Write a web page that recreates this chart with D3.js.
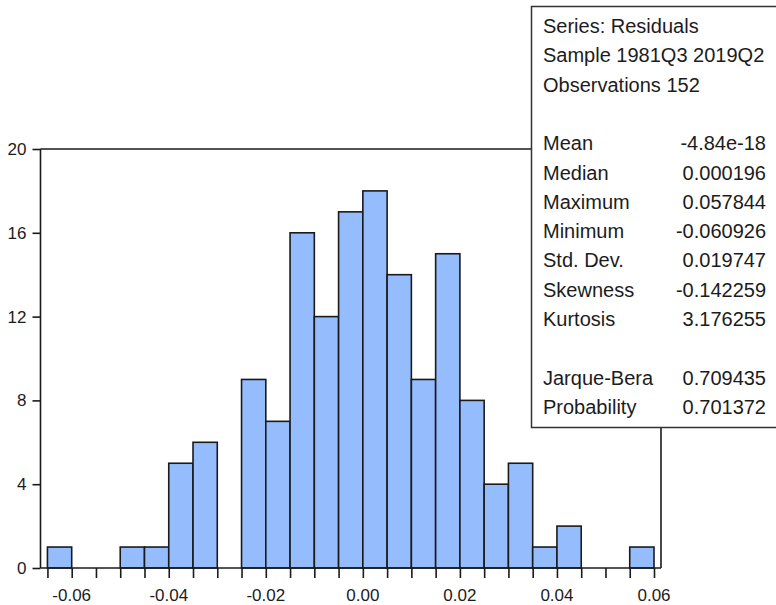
<!DOCTYPE html>
<html>
<head>
<meta charset="utf-8">
<script src="https://cdn.jsdelivr.net/npm/d3@7"></script>
<style>
  html, body { margin: 0; padding: 0; background: #fff; }
  svg { display: block; font-family: Arial, "Liberation Sans", sans-serif; }
</style>
</head>
<body>
<svg id="chart" width="776" height="605"></svg>
<script>
// Histogram of regression residuals, bins of width 0.005
const binStarts = [-0.065, -0.060, -0.055, -0.050, -0.045, -0.040, -0.035, -0.030,
  -0.025, -0.020, -0.015, -0.010, -0.005, 0.000, 0.005, 0.010, 0.015, 0.020,
  0.025, 0.030, 0.035, 0.040, 0.045, 0.050, 0.055];
const binCounts = [1, 0, 0, 1, 1, 5, 6, 0, 9, 7, 16, 12, 17, 18, 14, 9, 15, 8,
  4, 5, 1, 2, 0, 0, 1];
const binWidth = 0.005;
const xTickValues = [-0.06, -0.04, -0.02, 0.00, 0.02, 0.04, 0.06];
const yTickValues = [0, 4, 8, 12, 16, 20];

// Summary statistics table
const statHeader = ["Series: Residuals", "Sample 1981Q3 2019Q2", "Observations 152"];
const statNames = ["Mean", "Median", "Maximum", "Minimum", "Std. Dev.", "Skewness", "Kurtosis"];
const statValues = ["-4.84e-18", "0.000196", "0.057844", "-0.060926", "0.019747", "-0.142259", "3.176255"];
const testNames = ["Jarque-Bera", "Probability"];
const testValues = ["0.709435", "0.701372"];

const svg = d3.select("#chart");
const ink = "#1a1a1a";
const textInk = "#1c1c1c";

const x = d3.scaleLinear().domain([-0.06, 0.06]).range([71.7, 654]);
const y = d3.scaleLinear().domain([0, 20]).range([568, 149]);
const plotLeft = 40.5, plotRight = 661, plotTop = 149, plotBottom = 568;
const fmtX = v => d3.format(".2f")(v).replace("\u2212", "-");

// bars
svg.append("g").selectAll("rect")
  .data(binStarts.map((s, i) => ({ s, c: binCounts[i] })).filter(d => d.c > 0))
  .join("rect")
  .attr("x", d => x(d.s))
  .attr("y", d => y(d.c))
  .attr("width", d => x(d.s + binWidth) - x(d.s))
  .attr("height", d => y(0) - y(d.c))
  .attr("fill", "#95bdfe")
  .attr("stroke", ink)
  .attr("stroke-width", 1.6);

// frame: left, top, right
const frame = svg.append("g").attr("fill", "none").attr("stroke", ink).attr("stroke-width", 1.6);
frame.append("line").attr("x1", plotLeft).attr("x2", plotLeft).attr("y1", plotTop).attr("y2", plotBottom);
frame.append("line").attr("x1", plotLeft).attr("x2", plotRight).attr("y1", plotTop).attr("y2", plotTop);
frame.append("line").attr("x1", plotRight).attr("x2", plotRight).attr("y1", plotTop).attr("y2", plotBottom);

// y axis
const yAxis = svg.append("g")
  .attr("transform", `translate(${plotLeft},0)`)
  .call(d3.axisLeft(y).tickValues(yTickValues).tickFormat(d3.format("d")).tickSize(8).tickPadding(6));
yAxis.select(".domain").remove();
yAxis.selectAll("line").attr("stroke", ink).attr("stroke-width", 1.6);
yAxis.selectAll("text")
  .style("font-size", "17px")
  .style("font-family", "Arial, 'Liberation Sans', sans-serif")
  .attr("fill", textInk);

// x axis: small ticks at every bin edge, labels at 0.02 steps
const edgeTicks = binStarts.concat([binStarts[binStarts.length - 1] + binWidth]);
const xAxis = svg.append("g")
  .attr("transform", `translate(0,${plotBottom})`)
  .call(d3.axisBottom(x).tickValues(edgeTicks).tickSize(10).tickFormat(() => ""));
xAxis.select(".domain").attr("d", `M${plotLeft},0H${plotRight}`).attr("stroke", ink).attr("stroke-width", 1.6);
xAxis.selectAll("line").attr("stroke", ink).attr("stroke-width", 1.6);

svg.append("g").selectAll("text")
  .data(xTickValues)
  .join("text")
  .attr("x", d => x(d))
  .attr("y", 601)
  .attr("text-anchor", "middle")
  .style("font-size", "17px")
  .attr("fill", textInk)
  .text(d => fmtX(d));

// statistics box
const box = svg.append("g");
box.append("rect")
  .attr("x", 531.5).attr("y", 6.5)
  .attr("width", 260).attr("height", 421)
  .attr("fill", "#fff")
  .attr("stroke", "#333")
  .attr("stroke-width", 1.5);

const lineH = 29.3;
const rows = [];
statHeader.forEach((t, i) => rows.push({ name: t, value: "", row: i }));
statNames.forEach((t, i) => rows.push({ name: t, value: statValues[i], row: 4 + i }));
testNames.forEach((t, i) => rows.push({ name: t, value: testValues[i], row: 12 + i }));

const rowY = r => 33 + r * lineH;
box.selectAll("text.name").data(rows).join("text")
  .attr("class", "name")
  .attr("x", 543)
  .attr("y", d => rowY(d.row))
  .style("font-size", "20px")
  .attr("fill", textInk)
  .text(d => d.name);
box.selectAll("text.value").data(rows.filter(d => d.value)).join("text")
  .attr("class", "value")
  .attr("x", 766)
  .attr("y", d => rowY(d.row))
  .attr("text-anchor", "end")
  .style("font-size", "20px")
  .attr("fill", textInk)
  .text(d => d.value);
</script>
</body>
</html>
